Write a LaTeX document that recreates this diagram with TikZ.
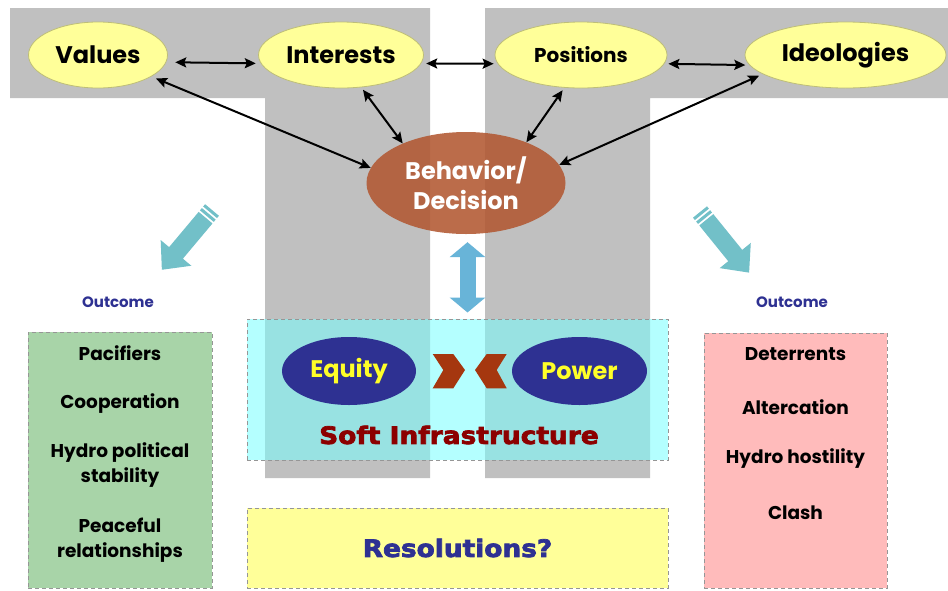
\documentclass[tikz,border=0pt]{standalone}
\usepackage{fontspec}
\setmainfont{Poppins}
\newfontfamily\heavyfont{DejaVu Sans}[FakeStretch=1.1, BoldFeatures={FakeBold=3}]
\usetikzlibrary{shapes.geometric, arrows.meta}

\definecolor{grayT}{RGB}{192,192,192}
\definecolor{paleyellow}{RGB}{255,255,153}
\definecolor{ellborder}{RGB}{190,190,120}
\definecolor{brownfill}{RGB}{178,88,50}
\definecolor{navy}{RGB}{46,49,146}
\definecolor{tealblue}{RGB}{114,192,200}
\definecolor{skyarrow}{RGB}{104,180,216}
\definecolor{chevroncol}{RGB}{165,55,15}
\definecolor{darkred}{RGB}{140,0,0}
\definecolor{softcyan}{RGB}{120,255,255}
\definecolor{greenbox}{RGB}{168,212,168}
\definecolor{pinkbox}{RGB}{255,187,187}
\definecolor{dashgray}{RGB}{150,150,150}

% fat pointer with two stripes at its tail, drawn along +x
\newcommand{\tealpointer}{%
	\fill[tealblue] (0,-9) rectangle (3,9);
	\fill[tealblue] (5,-9) rectangle (8,9);
	\fill[tealblue] (10,-9) -- (56,-9) -- (56,-20) -- (78,0) -- (56,20) -- (56,9) -- (10,9) -- cycle;
}

\begin{document}
\begin{tikzpicture}[x=1pt, y=-1pt,
	yellowell/.style={ellipse, draw=ellborder, line width=0.8pt, fill=paleyellow, inner sep=0pt, font=\fontsize{24}{28}\selectfont\bfseries},
	brownell/.style={ellipse, fill=brownfill, fill opacity=0.88, text opacity=1, text=white, inner sep=0pt, align=center, font=\fontsize{24}{30}\selectfont\bfseries},
	blueell/.style={ellipse, fill=navy, text={rgb,255:red,255;green,255;blue,40}, inner sep=0pt, font=\fontsize{24}{28}\selectfont\bfseries},
	dashbox/.style={rectangle, draw=dashgray, line width=1pt, dash pattern=on 4pt off 3pt, inner sep=0pt},
	itemtxt/.style={align=center, font=\fontsize{18.5}{25}\selectfont\bfseries},
	outlbl/.style={text=navy, font=\fontsize{15}{17}\selectfont\bfseries},
	arr/.style={{Stealth[length=11pt,width=10pt,inset=2pt]}-{Stealth[length=11pt,width=10pt,inset=2pt]}, line width=2pt}]

	\fill[white] (0,0) rectangle (948,590);
	\useasboundingbox (0,0) rectangle (948,590);

	% Grey T shapes behind everything
	\fill[grayT] (10,8) -- (430,8) -- (430,478) -- (265,478) -- (265,98) -- (10,98) -- cycle;
	\fill[grayT] (485,8) -- (948,8) -- (948,98) -- (650,98) -- (650,478) -- (485,478) -- cycle;

	% Define the nodes with specific positions
	\node[yellowell, minimum width=139pt, minimum height=66pt] (values) at (98,55) {Values};
	\node[yellowell, minimum width=165pt, minimum height=66pt] (interests) at (341,55) {Interests};
	\node[yellowell, minimum width=172pt, minimum height=66pt, font=\fontsize{20}{24}\selectfont\bfseries] (positions) at (581,55) {Positions};
	\node[yellowell, minimum width=201pt, minimum height=66pt] (ideologies) at (845.5,55) {Ideologies};
	\node[brownell, minimum width=199pt, minimum height=102pt] (behavior) at (466,183) {Behavior/\\Decision};

	% Draw the arrows between nodes
	\draw[arr, shorten <=9pt, shorten >=5pt] (values.-6) -- (interests.-174);
	\draw[arr, shorten <=5pt, shorten >=4pt] (interests.-6) -- (positions.-174);
	\draw[arr, shorten <=4pt, shorten >=4pt] (positions.-6) -- (ideologies.-174);
	\draw[arr, shorten <=5pt] (values.-22) -- (behavior.171);
	\draw[arr, shorten <=3pt] (interests.-58) -- (behavior.148);
	\draw[arr, shorten <=3pt] (positions.-117) -- (behavior.34);
	\draw[arr, shorten <=4pt] (ideologies.193) -- (behavior.11);

	% Outcome pointers
	\begin{scope}[shift={(212,210)}, rotate=230]
		\tealpointer
	\end{scope}
	\begin{scope}[shift={(700,212)}, rotate=-51]
		\tealpointer
	\end{scope}
	\node[outlbl] (outL) at (118,302) {Outcome};
	\node[outlbl] (outR) at (792,302) {Outcome};

	% Soft infrastructure
	\node[dashbox, fill=softcyan, fill opacity=0.55, minimum width=421pt, minimum height=141pt] (softbox) at (457.5,389.5) {};
	\draw[skyarrow, line width=16pt, {Triangle[length=15pt,width=35pt]}-{Triangle[length=15pt,width=35pt]}, shorten <=8pt, shorten >=6pt]
		([xshift=1.5pt]behavior.south) -- ([xshift=1.5pt]behavior.south |- softbox.north);
	\node[blueell, minimum width=134pt, minimum height=68pt] (equity) at (349,371) {Equity};
	\node[blueell, minimum width=135pt, minimum height=68pt] (power) at (579.5,371) {Power};
	\fill[chevroncol] (432.7,354) -- (453.3,354) -- (465,370) -- (453.3,388.3) -- (432.7,388.3) -- (443.3,370) -- cycle;
	\fill[chevroncol] (506.7,354) -- (486.7,354) -- (475,370) -- (486.7,388.3) -- (506.7,388.3) -- (496.7,370) -- cycle;
	\node[text=darkred, font=\heavyfont\fontsize{24}{28}\selectfont\bfseries] (softlbl) at (459,435) {Soft Infrastructure};

	% Resolutions
	\node[dashbox, fill=paleyellow, minimum width=421pt, minimum height=80pt, text=navy, font=\heavyfont\fontsize{24}{28}\selectfont\bfseries] (resol) at (457.5,548) {Resolutions?};

	% Outcome boxes
	\node[dashbox, fill=greenbox, minimum width=184pt, minimum height=256pt] (goodbox) at (120,460) {};
	\node[itemtxt] (pacifiers) at (120,353) {Pacifiers};
	\node[itemtxt] (cooperation) at (120,404) {Cooperation};
	\node[itemtxt] (stability) at (120,465.5) {Hydro political\\stability};
	\node[itemtxt] (peaceful) at (120,540.5) {Peaceful\\relationships};

	\node[dashbox, fill=pinkbox, minimum width=183pt, minimum height=255pt] (badbox) at (795.5,460.5) {};
	\node[itemtxt] (deterrents) at (795.5,354) {Deterrents};
	\node[itemtxt] (altercation) at (795.5,407) {Altercation};
	\node[itemtxt] (hostility) at (795.5,459) {Hydro hostility};
	\node[itemtxt] (clash) at (795.5,513) {Clash};
\end{tikzpicture}
\end{document}
